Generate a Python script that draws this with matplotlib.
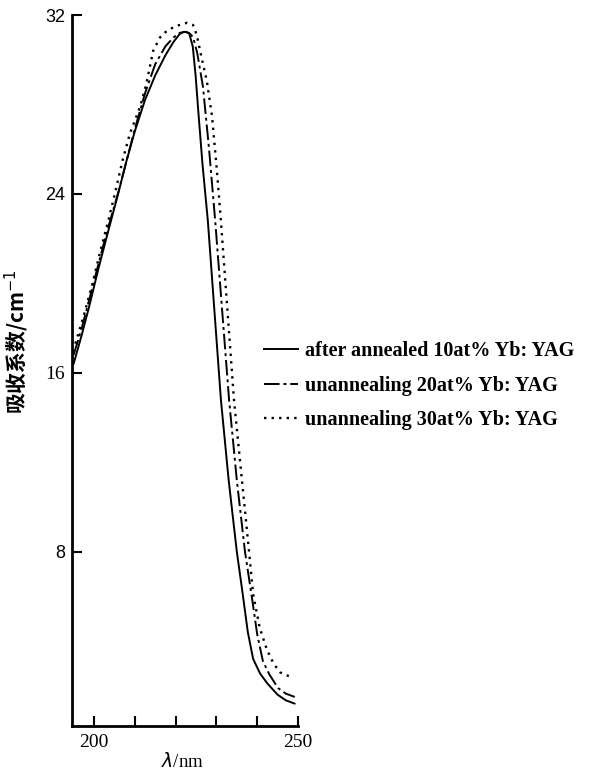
import matplotlib
matplotlib.use("Agg")
import matplotlib.pyplot as plt
from matplotlib.lines import Line2D

# wavelength (nm) / absorption coefficient (cm^-1)
wl_10 = [195.0, 197.0, 199.0, 201.0, 203.0, 205.9, 208.0, 210.0, 212.5, 215.0,
         217.5, 219.5, 221.0, 222.0, 223.3, 224.2, 224.9, 225.6, 226.6, 227.9,
         229.5, 231.1, 233.0, 235.0, 236.3, 237.7, 239.0, 240.7, 242.5, 245.0,
         247.0, 249.2]
ab_10 = [16.4, 17.7, 19.1, 20.6, 22.0, 24.0, 25.5, 26.8, 28.2, 29.3,
         30.2, 30.8, 31.15, 31.25, 31.2, 30.6, 29.3, 27.6, 25.3, 22.8,
         18.8, 14.8, 11.2, 8.0, 6.3, 4.4, 3.2, 2.55, 2.1, 1.6,
         1.35, 1.2]

wl_20 = [195.0, 197.0, 199.0, 201.0, 203.0, 206.0, 208.0, 210.0, 212.5, 215.0,
         217.5, 219.5, 221.0, 222.5, 223.6, 224.3, 225.3, 226.7, 228.2, 229.7,
         231.4, 233.1, 235.0, 237.0, 238.7, 240.0, 241.4, 243.0, 245.1, 247.0,
         249.2]
ab_20 = [16.8, 18.0, 19.4, 20.8, 22.2, 24.1, 25.5, 26.9, 28.5, 29.8,
         30.6, 31.0, 31.2, 31.25, 31.15, 31.0, 30.3, 28.8, 26.0, 22.8,
         18.8, 14.8, 11.2, 8.0, 5.95, 4.3, 3.1, 2.5, 1.9, 1.65,
         1.5]

wl_30 = [195.4, 197.4, 199.5, 201.5, 203.5, 205.1, 207.0, 208.8, 211.3, 212.8,
         214.5, 216.2, 217.9, 220.0, 222.8, 224.3, 225.2, 226.0, 227.7, 228.9,
         230.0, 231.1, 232.7, 234.3, 236.2, 238.0, 239.0, 240.6, 242.4, 244.0,
         245.6, 248.5]
ab_30 = [17.3, 18.5, 19.9, 21.4, 22.8, 24.0, 25.5, 26.7, 27.9, 28.9,
         30.4, 31.0, 31.3, 31.5, 31.65, 31.55, 31.1, 30.4, 29.0, 27.5,
         25.3, 22.8, 18.8, 14.8, 11.3, 8.0, 6.1, 4.6, 3.6, 3.0,
         2.6, 2.37]

labels = ["after annealed 10at% Yb: YAG",
          "unannealing 20at% Yb: YAG",
          "unannealing 30at% Yb: YAG"]

xticks = [200, 210, 220, 230, 240, 250]
xticklabels = ["200", "", "", "", "", "250"]
yticks = [8, 16, 24, 32]

serif = "Liberation Serif"
sans = "Liberation Sans"

fig = plt.figure(figsize=(5.89, 7.74), dpi=100)
ax = fig.add_axes([72 / 589, 48 / 774, 226 / 589, 711 / 774])

ls_20 = (0, (8, 2, 1.5, 2))
ls_30 = (0, (1, 2.2))
ax.plot(wl_10, ab_10, color="black", lw=1.4, solid_capstyle="round")
ax.plot(wl_20, ab_20, color="black", lw=1.4, linestyle=ls_20)
ax.plot(wl_30, ab_30, color="black", lw=1.7, linestyle=ls_30)

ax.set_xlim(194.6, 250)
ax.set_ylim(0.2, 32)
ax.spines["top"].set_visible(False)
ax.spines["right"].set_visible(False)
for s in ("left", "bottom"):
    ax.spines[s].set_linewidth(2.0)

ax.set_xticks(xticks)
ax.set_xticklabels(xticklabels, fontfamily=serif, fontsize=14)
ax.set_yticks(yticks)
ax.set_yticklabels([str(v) for v in yticks], fontfamily=sans, fontsize=13)
for t in ax.get_yticklabels():
    if t.get_text() == "16":
        t.set_fontfamily(serif)
        t.set_fontsize(14)
ax.tick_params(axis="x", direction="in", length=7, width=1.5, pad=6)
ax.tick_params(axis="y", direction="in", length=7, width=1.5, pad=5)

ax.set_xlabel(r"$\lambda$/nm", fontfamily=serif, fontsize=13.5)
ax.xaxis.set_label_coords(0.487, -0.036)
ax.set_ylabel("吸收系数/cm$^{-1}$", fontfamily=["Noto Sans CJK SC", "DejaVu Sans"],
              fontsize=15, fontweight="bold")
ax.yaxis.set_label_coords(-0.18, 0.54)

handles = [Line2D([], [], color="black", lw=1.4),
           Line2D([], [], color="black", lw=1.4, linestyle=ls_20),
           Line2D([], [], color="black", lw=1.7, linestyle=ls_30)]
fig.legend(handles, labels, loc="upper left",
           bbox_to_anchor=(254 / 589, 1 - 331 / 774),
           frameon=False, borderpad=0, handlelength=1.7, handletextpad=0.35,
           labelspacing=0.72, prop={"family": serif, "size": 14.5, "weight": "bold"})

fig.savefig("out.png", dpi=100)
